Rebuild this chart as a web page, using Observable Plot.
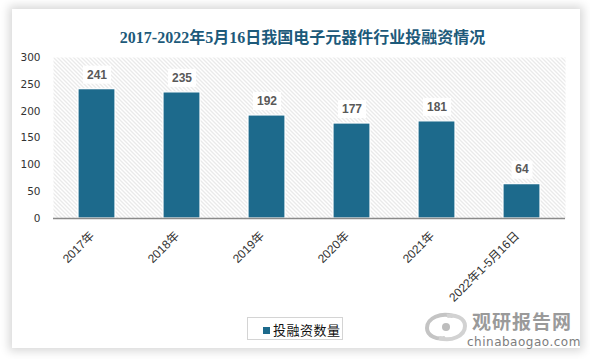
<!DOCTYPE html>
<html>
<head>
<meta charset="utf-8">
<script src="https://cdn.jsdelivr.net/npm/d3@7"></script>
<script src="https://cdn.jsdelivr.net/npm/@observablehq/plot@0.6"></script>
<style>
  html, body { margin: 0; padding: 0; background: #ffffff; width: 590px; height: 359px; overflow: hidden; }
  #card { position: absolute; left: 12px; top: 9px; width: 568px; height: 339px; background: #fff;
          box-shadow: 0 0 9px 3px rgba(0,0,0,0.16); }
  #title { position: absolute; left: 0; top: 24px; width: 605px; text-align: center;
           font: bold 16px "Liberation Serif", "Noto Sans CJK SC", serif; color: #1d5a7a; }
  #chart { position: absolute; left: 0; top: 0; }
  #legend { position: absolute; left: 247px; top: 317px; width: 96px; height: 23px; border: 1px solid #d4d4d4;
            box-sizing: border-box; background: #fff; }
  #legend .sw { position: absolute; left: 15px; top: 9px; width: 7px; height: 7px; background: #1d6a8c; }
  #legend .lb { position: absolute; left: 25px; top: 2px; font: 13px "Noto Sans CJK SC", sans-serif; color: #111; letter-spacing: 0.5px; }
  #wm1 { position: absolute; left: 472px; top: 312px; font: bold 19px "Noto Sans CJK SC", sans-serif; line-height: 18px; color: #9a9a9a; letter-spacing: 1px; }
  #wm2 { position: absolute; left: 467px; top: 337px; font: 12px "DejaVu Sans", sans-serif; line-height: 11px; color: #7d7d7d; letter-spacing: 0.5px; }
  #logo { position: absolute; left: 423px; top: 312px; }
</style>
</head>
<body>
<div id="card"></div>
<div id="chart"></div>
<div id="title">2017-2022年5月16日我国电子元器件行业投融资情况</div>
<div id="legend"><div class="sw"></div><div class="lb">投融资数量</div></div>
<svg id="logo" width="46" height="30" viewBox="0 0 46 30">
  <path d="M30,4 C18,0 4,6 4,16 C4,24 14,28 22,26" fill="none" stroke="#c4c4c4" stroke-width="4"/>
  <path d="M16,26 C28,30 42,24 42,14 C42,6 32,2 24,4" fill="none" stroke="#d2d2d2" stroke-width="4"/>
  <circle cx="23" cy="15" r="4" fill="#bdbdbd"/>
</svg>
<div id="wm1">观研报告网</div>
<div id="wm2">chinabaogao.com</div>
<script>
const years = ["2017年", "2018年", "2019年", "2020年", "2021年", "2022年1-5月16日"];
const counts = [241, 235, 192, 177, 181, 64];
const yTicks = [0, 50, 100, 150, 200, 250, 300];

const data = years.map((year, i) => ({year, value: counts[i]}));

const box3 = {draw(ctx) { ctx.rect(-14, -9, 28, 18); }};
const box2 = {draw(ctx) { ctx.rect(-10.5, -9, 21, 18); }};

const barColor = "#1d6a8c";

const chart = Plot.plot({
  width: 590,
  height: 359,
  marginLeft: 53,
  marginRight: 25,
  marginTop: 57,
  marginBottom: 141,
  style: {background: "transparent", overflow: "visible"},
  x: {domain: years, paddingInner: 0.566, paddingOuter: 0.283, axis: null},
  y: {domain: [0, 300], axis: null},
  marks: [
    Plot.frame({fill: "url(#hatch)", stroke: "none"}),
    Plot.axisY({ticks: yTicks, tickSize: 0, tickPadding: 13, fontSize: 10.5, fontFamily: "DejaVu Sans", fill: "#333", label: null}),
    Plot.barY(data, {x: "year", y: "value", fill: barColor, stroke: "#fff", strokeWidth: 1.2, ariaLabel: "bars"}),
    Plot.ruleY([0], {stroke: "#8a8a8a", strokeWidth: 1.5}),
    Plot.dot(data.filter(d => d.value >= 100), {x: "year", y: "value", dy: -14.5, symbol: box3, r: 1, fill: "#fff", stroke: "none", ariaLabel: "boxes"}),
    Plot.dot(data.filter(d => d.value < 100), {x: "year", y: "value", dy: -14.5, symbol: box2, r: 1, fill: "#fff", stroke: "none", ariaLabel: "boxes"}),
    Plot.text(data, {x: "year", y: "value", text: d => String(d.value), dy: -14.5, fontWeight: "bold", fontSize: 12, fontFamily: "Liberation Sans", fill: "#595959"}),
    Plot.text(data, {x: "year", frameAnchor: "bottom", text: "year", rotate: -45, textAnchor: "end", dy: 18, dx: -2,
      fontSize: 12, fontFamily: "Liberation Sans, Noto Sans CJK SC", fill: "#333"})
  ]
});

const ns = "http://www.w3.org/2000/svg";
const defs = document.createElementNS(ns, "defs");
defs.innerHTML = `
  <pattern id="hatch" patternUnits="userSpaceOnUse" width="4" height="4">
    <rect width="4" height="4" fill="#ffffff"/>
    <path d="M-1,-1 L5,5 M3,-1 L5,1 M-1,3 L1,5" stroke="#d0d0d0" stroke-width="0.9"/>
  </pattern>
  <filter id="shadow" x="-30%" y="-30%" width="160%" height="160%">
    <feDropShadow dx="2" dy="1.5" stdDeviation="1.5" flood-color="#000" flood-opacity="0.28"/>
  </filter>`;
chart.insertBefore(defs, chart.firstChild);
chart.querySelectorAll('[aria-label="bars"], [aria-label="boxes"]').forEach(g => g.setAttribute("filter", "url(#shadow)"));
chart.querySelectorAll('[aria-label="frame"]').forEach(el => {
  if (el.tagName.toLowerCase() === "rect") el.setAttribute("fill", "url(#hatch)");
  el.querySelectorAll("rect").forEach(r => r.setAttribute("fill", "url(#hatch)"));
});
document.getElementById("chart").appendChild(chart);
</script>
</body>
</html>
